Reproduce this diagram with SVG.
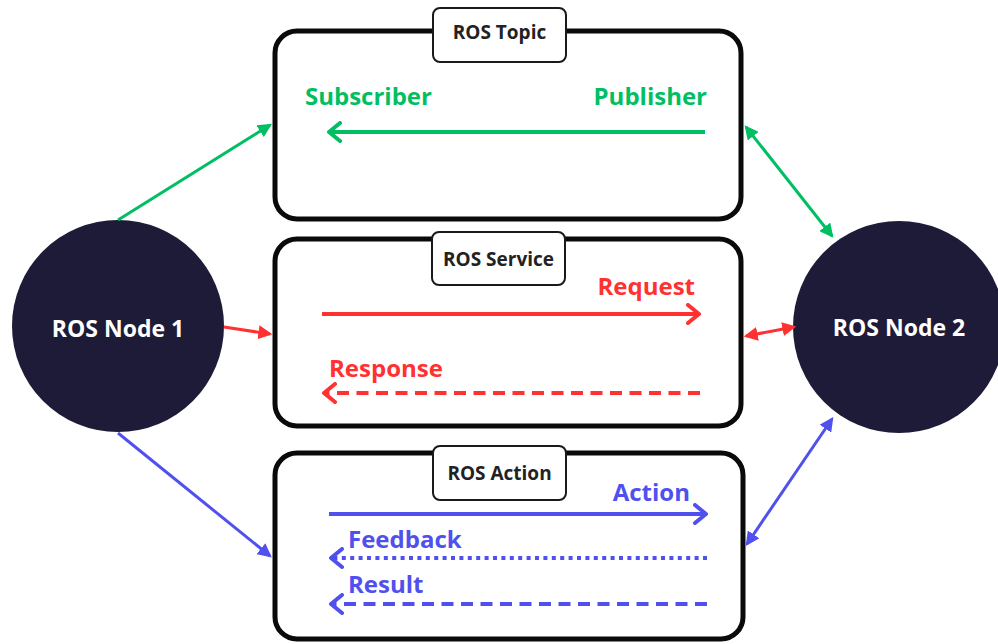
<svg xmlns="http://www.w3.org/2000/svg" width="998" height="644" viewBox="0 0 998 644">
  <style>
    .frame { fill: #ffffff; stroke: #0a0a0a; stroke-width: 5; }
    .tag { fill: #ffffff; stroke: #1a1a1a; stroke-width: 2; }
    .tagtext { font-family: "Open Sans", "Liberation Sans", sans-serif; font-weight: 700; font-size: 19px; fill: #222222; text-anchor: middle; }
    .lbl { font-family: "Open Sans", "Liberation Sans", sans-serif; font-weight: 700; font-size: 24px; }
    .node { fill: #1e1b38; }
    .nodetext { font-family: "Open Sans", "Liberation Sans", sans-serif; font-weight: 700; font-size: 23px; fill: #ffffff; text-anchor: middle; }
    .flow { fill: none; stroke-width: 4; }
    .link { fill: none; stroke-width: 3; }
    .green { stroke: #00bf63; }
    .red { stroke: #ff3131; }
    .blue { stroke: #5050ee; }
    .tg { fill: #00bf63; }
    .tr { fill: #ff3131; }
    .tb { fill: #5050ee; }
    .dash { stroke-dasharray: 12 7.5; }
    .dot { stroke-dasharray: 4 4.4; }
  </style>
  <defs>
    <!-- filled heads for node-to-box links -->
    <marker id="hg" markerUnits="userSpaceOnUse" markerWidth="14" markerHeight="14" viewBox="0 0 12 12" refX="10" refY="6" orient="auto-start-reverse">
      <path d="M0,0 L12,6 L0,12 z" fill="#00bf63"/>
    </marker>
    <marker id="hr" markerUnits="userSpaceOnUse" markerWidth="14" markerHeight="14" viewBox="0 0 12 12" refX="10" refY="6" orient="auto-start-reverse">
      <path d="M0,0 L12,6 L0,12 z" fill="#ff3131"/>
    </marker>
    <marker id="hb" markerUnits="userSpaceOnUse" markerWidth="14" markerHeight="14" viewBox="0 0 12 12" refX="10" refY="6" orient="auto-start-reverse">
      <path d="M0,0 L12,6 L0,12 z" fill="#5050ee"/>
    </marker>
    <!-- open chevron heads for message flows -->
    <marker id="cg" markerUnits="userSpaceOnUse" markerWidth="22" markerHeight="22" viewBox="0 0 22 22" refX="15" refY="11" orient="auto">
      <path d="M4,2 L15,11 L4,20" fill="none" stroke="#00bf63" stroke-width="4" stroke-linecap="round" stroke-linejoin="round" stroke-dasharray="none"/>
    </marker>
    <marker id="cr" markerUnits="userSpaceOnUse" markerWidth="22" markerHeight="22" viewBox="0 0 22 22" refX="15" refY="11" orient="auto">
      <path d="M4,2 L15,11 L4,20" fill="none" stroke="#ff3131" stroke-width="4" stroke-linecap="round" stroke-linejoin="round" stroke-dasharray="none"/>
    </marker>
    <marker id="cb" markerUnits="userSpaceOnUse" markerWidth="22" markerHeight="22" viewBox="0 0 22 22" refX="15" refY="11" orient="auto">
      <path d="M4,2 L15,11 L4,20" fill="none" stroke="#5050ee" stroke-width="4" stroke-linecap="round" stroke-linejoin="round" stroke-dasharray="none"/>
    </marker>
  </defs>

  <rect width="998" height="644" fill="#ffffff"/>

  <!-- ROS Topic -->
  <g id="topic">
    <rect class="frame" x="275" y="31" width="466" height="188" rx="22"/>
    <rect class="tag" x="433" y="8" width="133" height="54" rx="7"/>
    <text class="tagtext" x="499.5" y="39">ROS Topic</text>
    <text class="lbl tg" x="305" y="105">Subscriber</text>
    <text class="lbl tg" x="707" y="105" text-anchor="end">Publisher</text>
    <line class="flow green" x1="705" y1="132" x2="329" y2="132" marker-end="url(#cg)"/>
  </g>

  <!-- ROS Service -->
  <g id="service">
    <rect class="frame" x="275" y="239" width="466" height="187" rx="22"/>
    <rect class="tag" x="432" y="232" width="133" height="53" rx="7"/>
    <text class="tagtext" x="498.5" y="266">ROS Service</text>
    <text class="lbl tr" x="695" y="295" text-anchor="end">Request</text>
    <line class="flow red" x1="322" y1="314" x2="699" y2="314" marker-end="url(#cr)"/>
    <text class="lbl tr" x="329" y="377">Response</text>
    <line class="flow red dash" x1="700" y1="393" x2="324" y2="393" marker-end="url(#cr)"/>
  </g>

  <!-- ROS Action -->
  <g id="action">
    <rect class="frame" x="275" y="453" width="468" height="186" rx="22"/>
    <rect class="tag" x="433" y="446" width="133" height="54" rx="7"/>
    <text class="tagtext" x="499.5" y="480">ROS Action</text>
    <text class="lbl tb" x="690" y="501" text-anchor="end">Action</text>
    <line class="flow blue" x1="329" y1="514" x2="706" y2="514" marker-end="url(#cb)"/>
    <text class="lbl tb" x="348" y="548">Feedback</text>
    <line class="flow blue dot" x1="707" y1="558" x2="331" y2="558" marker-end="url(#cb)"/>
    <text class="lbl tb" x="348" y="593">Result</text>
    <line class="flow blue dash" x1="707" y1="604" x2="331" y2="604" marker-end="url(#cb)"/>
  </g>

  <!-- ROS Node 1 -->
  <g id="node1">
    <circle class="node" cx="118" cy="326" r="106"/>
    <text class="nodetext" x="118" y="337">ROS Node 1</text>
  </g>

  <!-- ROS Node 2 -->
  <g id="node2">
    <circle class="node" cx="899" cy="327" r="106"/>
    <text class="nodetext" x="899" y="336">ROS Node 2</text>
  </g>

  <!-- links between nodes and communication boxes -->
  <g id="connectors">
    <line class="link green" x1="118" y1="220" x2="270" y2="125" marker-end="url(#hg)"/>
    <line class="link red" x1="224" y1="327" x2="270" y2="334" marker-end="url(#hr)"/>
    <line class="link blue" x1="118" y1="433" x2="270" y2="556" marker-end="url(#hb)"/>
    <line class="link green" x1="746" y1="127" x2="832" y2="236" marker-start="url(#hg)" marker-end="url(#hg)"/>
    <line class="link red" x1="746" y1="336" x2="794" y2="327" marker-start="url(#hr)" marker-end="url(#hr)"/>
    <line class="link blue" x1="747" y1="544" x2="832" y2="419" marker-start="url(#hb)" marker-end="url(#hb)"/>
  </g>
</svg>
